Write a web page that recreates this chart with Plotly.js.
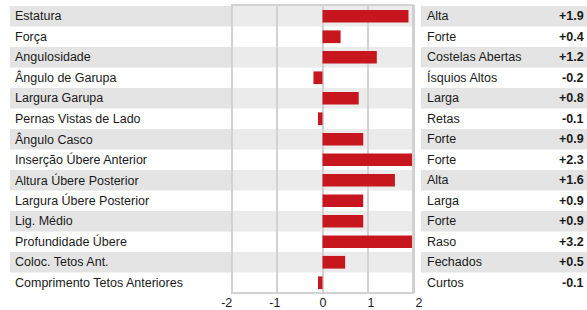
<!DOCTYPE html>
<html>
<head>
<meta charset="utf-8">
<script src="https://cdn.plot.ly/plotly-3.0.1.min.js"></script>
<style>html,body{margin:0;padding:0;background:#fff;}#chart{width:587px;height:310px;}</style>
</head>
<body>
<div id="chart"></div>
<script>
const traits = ["Estatura","Força","Angulosidade","Ângulo de Garupa","Largura Garupa","Pernas Vistas de Lado","Ângulo Casco","Inserção Úbere Anterior","Altura Úbere Posterior","Largura Úbere Posterior","Lig. Médio","Profundidade Úbere","Coloc. Tetos Ant.","Comprimento Tetos Anteriores"];
const descriptors = ["Alta","Forte","Costelas Abertas","Ísquios Altos","Larga","Retas","Forte","Forte","Alta","Larga","Forte","Raso","Fechados","Curtos"];
const values = [1.9,0.4,1.2,-0.2,0.8,-0.1,0.9,2.3,1.6,0.9,0.9,3.2,0.5,-0.1];
const tickVals = [-2,-1,0,1,2];
const tickText = ["-2","-1","0","1","2"];

const W = 587, H = 310;
const FONT = "Liberation Sans, Arial, sans-serif";
const px = v => v / W;
const py = v => 1 - v / H;

const shapes = [];
const annotations = [];
traits.forEach((t, i) => {
  if (i % 2 === 0) {
    shapes.push({type:'rect', layer:'below', xref:'paper', yref:'y', x0:px(10), x1:px(232), y0:i-0.5, y1:i+0.5, fillcolor:'#e4e4e4', line:{width:0}});
    shapes.push({type:'rect', layer:'below', xref:'paper', yref:'y', x0:px(232), x1:px(413), y0:i-0.5, y1:i+0.5, fillcolor:'#ebebeb', line:{width:0}});
    shapes.push({type:'rect', layer:'below', xref:'paper', yref:'y', x0:px(421), x1:1, y0:i-0.5, y1:i+0.5, fillcolor:'#e4e4e4', line:{width:0}});
  }
  annotations.push({xref:'paper', yref:'y', x:px(13), y:i, text:t, showarrow:false, xanchor:'left', yanchor:'middle', font:{family:FONT, size:12.5, color:'#1a1a1a'}});
  annotations.push({xref:'paper', yref:'y', x:px(425), y:i, text:descriptors[i], showarrow:false, xanchor:'left', yanchor:'middle', font:{family:FONT, size:12.5, color:'#1a1a1a'}});
  const v = values[i];
  annotations.push({xref:'paper', yref:'y', x:px(586), y:i, text:'<b>' + (v > 0 ? '+' : '') + v.toFixed(1) + '</b>', showarrow:false, xanchor:'right', yanchor:'middle', font:{family:FONT, size:12.5, color:'#1a1a1a'}});
});
// plot frame
shapes.push({type:'rect', layer:'above', xref:'paper', yref:'paper', x0:px(232), x1:px(413), y0:py(293), y1:py(5), line:{color:'#d2d2d2', width:2}, fillcolor:'rgba(0,0,0,0)'});
shapes.push({type:'line', layer:'above', xref:'paper', yref:'paper', x0:px(413.5), x1:px(413.5), y0:py(293), y1:py(5), line:{color:'#d0d0d0', width:3}});

const trace = {
  type:'bar', orientation:'h',
  x: values, y: traits,
  marker:{color:'#c8161e', line:{width:0}},
  hoverinfo:'none'
};
// empty trace only to carry the tick-label axis
const labelAxisTrace = {type:'scatter', mode:'markers', x:[], y:[], xaxis:'x2', yaxis:'y', hoverinfo:'none', showlegend:false};

const layout = {
  width:W, height:H,
  margin:{l:0, r:0, t:0, b:0},
  paper_bgcolor:'#fff', plot_bgcolor:'rgba(0,0,0,0)',
  showlegend:false,
  bargap:0.38,
  xaxis:{domain:[px(232), px(413)], range:[-2,2], tickvals:tickVals,
    showgrid:true, gridcolor:'#d2d2d2', gridwidth:2, zeroline:true, zerolinecolor:'#d2d2d2', zerolinewidth:2,
    showline:false, ticks:'', showticklabels:false, fixedrange:true},
  xaxis2:{domain:[px(226.7), px(419)], range:[-2,2], anchor:'y', tickvals:tickVals, ticktext:tickText,
    showgrid:false, zeroline:false, showline:false, ticks:'', tickfont:{family:FONT, size:12.5, color:'#1a1a1a'}, fixedrange:true},
  yaxis:{domain:[py(293), py(6)], type:'category', categoryarray:traits, categoryorder:'array', autorange:false, range:[traits.length-0.5, -0.5],
    showticklabels:false, showgrid:false, zeroline:false, showline:false, ticks:'', fixedrange:true},
  shapes: shapes,
  annotations: annotations,
  font:{family:FONT}
};

Plotly.newPlot('chart', [trace, labelAxisTrace], layout, {displayModeBar:false, staticPlot:true});
</script>
</body>
</html>
